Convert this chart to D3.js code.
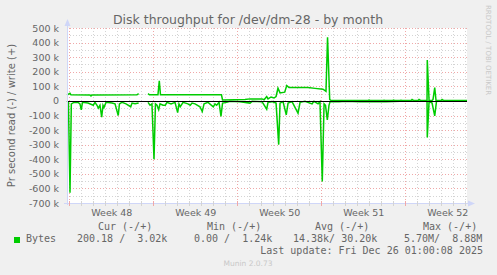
<!DOCTYPE html>
<html>
<head>
<meta charset="utf-8">
<script src="https://cdn.jsdelivr.net/npm/d3@7"></script>
<style>
body{margin:0;background:#f0f0f0;}
svg text{font-family:"DejaVu Sans",sans-serif;fill:#666666;}
.mono{font-family:"DejaVu Sans Mono",monospace;white-space:pre;}
</style>
</head>
<body>
<svg id="chart" width="497" height="275"></svg>
<script>
// days counted from Mon Nov 24 2025 (start of week 48), values in k bytes/s
var write_points = [
 [-0.19,40],[-0.03,48],[0.06,52],[0.14,42],[1.73,41],[1.81,34],[1.89,41],[5.64,42],[5.78,50],
 [6.2,null],
 [6.56,50],[6.68,42],[7.39,42],[7.50,137],[7.60,42],[12.68,42],[12.77,7],[13.81,8],[14.64,10],
 [15.06,14],[16.06,14],[16.23,8],[16.45,30],[16.56,14],[16.81,27],[17.06,20],[17.23,30],[17.39,87],
 [17.56,55],[17.95,60],[18.12,105],[18.31,92],[19.89,92],[20.48,86],[21.14,80],[21.39,66],[21.52,436],
 [21.70,10],[21.81,3],[24.9,3],[24.98,6],[25.06,3],[26.15,3],[26.23,5],[26.3,3],[26.95,3],[27.03,6],
 [27.1,3],[27.56,3],[27.64,5],[27.72,3],[28.48,3],[28.56,10],[28.68,3],[29.06,3],[29.14,10],[29.27,3],
 [29.81,3],[29.83,281],[29.98,3],[30.23,3],[30.31,10],[30.45,91],[30.56,3],[30.98,3],[31.06,10],[31.18,3],
 [33.14,3]
]
var read_points = [
 [-0.19,0],[-0.07,10],[0.06,630],[0.17,20],[0.39,10],[0.73,10],[0.89,20],[1.00,62],[1.10,10],[1.56,15],
 [2.00,30],[2.14,10],[2.31,30],[2.42,50],[2.56,30],[2.70,112],[2.81,30],[2.89,45],[3.06,10],[3.56,15],
 [3.81,20],[4.08,100],[4.18,20],[4.39,10],[4.73,20],[5.12,40],[5.23,15],[5.48,20],[5.78,15],
 [6.2,null],
 [6.56,10],[6.73,30],[6.89,20],[7.06,400],[7.18,20],[7.31,30],[7.45,60],[7.56,20],[7.81,30],[8.00,30],
 [8.14,10],[8.48,20],[8.81,10],[9.03,80],[9.14,20],[9.25,40],[9.48,10],[9.89,20],[10.08,30],[10.23,15],
 [10.48,20],[10.89,40],[11.08,73],[11.23,20],[11.56,10],[12.00,40],[12.14,20],[12.28,30],[12.48,10],
 [12.64,107],[12.77,15],[13.12,10],[13.39,3],[14.23,5],[15.06,15],[15.23,3],[16.06,5],[16.45,57],
 [16.56,10],[16.89,5],[17.23,15],[17.45,300],[17.56,15],[17.81,5],[18.08,96],[18.23,15],[18.56,5],
 [19.06,84],[19.23,10],[19.64,3],[20.23,20],[20.39,3],[20.73,20],[20.89,5],[21.08,553],[21.23,20],
 [21.35,30],[21.50,130],[21.64,30],[21.73,5],[22.48,5],[22.98,2],[24.23,5],[25.31,5],[25.73,5],
 [26.39,5],[27.56,3],[29.81,3],[29.83,251],[29.98,3],[30.23,15],[30.45,103],[30.60,3],[33.14,2]
]
var week_labels = ["Week 48","Week 49","Week 50","Week 51","Week 52"]
var week_starts = [0,7,14,21,28]
var y_ticks = [-700,-600,-500,-400,-300,-200,-100,0,100,200,300,400,500]
var legend_heads = ["Cur (-/+)","Min (-/+)","Avg (-/+)","Max (-/+)"]
var legend_vals = ["200.18 /  3.02k","0.00 /  1.24k","14.38k/ 30.20k","5.70M/  8.88M"]

var t0 = Date.UTC(2025, 10, 24)
function day_to_date(d){ return new Date(t0 + d*864e5) }

var svg = d3.select("#chart")
var x = d3.scaleTime().domain([day_to_date(-0.19), day_to_date(33.14)]).range([67, 467])
var y = d3.scaleLinear().domain([-700000, 500000]).range([203, 28])
function px(v){ return Math.round(v) + 0.5 }

svg.append("rect").attr("x",67).attr("y",28).attr("width",400).attr("height",175).attr("fill","#ffffff")

// grid: minor first, then major
var day_list = d3.range(0, 34)
var minor_days = day_list.filter(d => week_starts.indexOf(d) < 0)
var minor_y = d3.range(-650, 500, 100)
var g_grid = svg.append("g")
g_grid.selectAll("line.vmin").data(minor_days).enter().append("line")
	.attr("x1", d => px(x(day_to_date(d)))).attr("x2", d => px(x(day_to_date(d))))
	.attr("y1", 28).attr("y2", 203)
	.attr("stroke","#d4d4d4").attr("stroke-dasharray","1,2")
g_grid.selectAll("line.hmin").data(minor_y).enter().append("line")
	.attr("x1", 67).attr("x2", 467)
	.attr("y1", d => px(y(d*1000))).attr("y2", d => px(y(d*1000)))
	.attr("stroke","#d4d4d4").attr("stroke-dasharray","1,2")
g_grid.selectAll("line.vmaj").data(week_starts).enter().append("line")
	.attr("x1", d => px(x(day_to_date(d)))).attr("x2", d => px(x(day_to_date(d))))
	.attr("y1", 28).attr("y2", 203)
	.attr("stroke","#f0a8a8").attr("stroke-dasharray","1,2")
g_grid.selectAll("line.hmaj").data(y_ticks).enter().append("line")
	.attr("x1", 67).attr("x2", 467)
	.attr("y1", d => px(y(d*1000))).attr("y2", d => px(y(d*1000)))
	.attr("stroke","#f0a8a8").attr("stroke-dasharray","1,2")

// axes (labels)
var y_axis = d3.axisLeft(y).tickValues(y_ticks.map(v => v*1000)).tickSize(0).tickPadding(8)
	.tickFormat(v => v == 0 ? "0" : (v/1000) + " k")
var gy = svg.append("g").attr("transform","translate(67,0)").call(y_axis)
gy.select(".domain").remove()
gy.selectAll("text").style("font-family","DejaVu Sans").style("font-size","9.5px").attr("fill","#666666")

var x_axis = d3.axisBottom(x).tickValues(week_starts.map(d => day_to_date(d+3.5))).tickSize(0).tickPadding(6)
	.tickFormat((d,i) => week_labels[i])
var gx = svg.append("g").attr("transform","translate(0,203)").call(x_axis)
gx.select(".domain").remove()
gx.selectAll("text").style("font-family","DejaVu Sans").style("font-size","9.5px").attr("fill","#666666")

// data lines, read is mirrored below zero
var write_line = d3.line().defined(d => d[1] != null)
	.x(d => x(day_to_date(d[0]))).y(d => y(d[1]*1000))
var read_line = d3.line().defined(d => d[1] != null)
	.x(d => x(day_to_date(d[0]))).y(d => y(-d[1]*1000))
svg.append("path").attr("d", write_line(write_points)).attr("fill","none").attr("stroke","#00cc00").attr("stroke-width",1.5)
svg.append("path").attr("d", read_line(read_points)).attr("fill","none").attr("stroke","#00cc00").attr("stroke-width",1.5)

// zero rule
svg.append("line").attr("x1",67).attr("x2",467).attr("y1",px(y(0))).attr("y2",px(y(0)))
	.attr("stroke","#000000").attr("stroke-width",1)

// axis frame with arrows
var axis_col = "#cfd6f8"
svg.append("line").attr("x1",67.5).attr("x2",67.5).attr("y1",205).attr("y2",24).attr("stroke",axis_col)
svg.append("path").attr("d","M64.5,26 L67.5,19 L70.5,26 Z").attr("fill",axis_col)
svg.append("line").attr("x1",64).attr("x2",470).attr("y1",203.5).attr("y2",203.5).attr("stroke",axis_col)
svg.append("path").attr("d","M468,200.5 L475,203.5 L468,206.5 Z").attr("fill",axis_col)
svg.selectAll("line.xt").data(day_list).enter().append("line")
	.attr("x1", d => px(x(day_to_date(d)))).attr("x2", d => px(x(day_to_date(d))))
	.attr("y1", 201).attr("y2", 206)
	.attr("stroke", d => week_starts.indexOf(d) >= 0 ? "#f0a8a8" : "#d4d4d4")

// titles
svg.append("text").attr("x",248).attr("y",24).attr("text-anchor","middle")
	.style("font-size","12.5px").text("Disk throughput for /dev/dm-28 - by month")
svg.append("text").attr("transform","translate(15,115.5) rotate(-90)").attr("text-anchor","middle")
	.style("font-size","10px").text("Pr second read (-) / write (+)")
svg.append("text").attr("transform","translate(486,5) rotate(90)").attr("text-anchor","start")
	.style("font-size","7px").style("fill","#c8c8c8").text("RRDTOOL / TOBI OETIKER")

// legend
var head_x = [98,207,315,423]
var val_x = [77,194,293,404]
svg.selectAll("text.lh").data(legend_heads).enter().append("text").attr("class","mono")
	.attr("x",(d,i) => head_x[i]).attr("y",230).style("font-size","10px").text(d => d)
svg.append("rect").attr("x",14).attr("y",237).attr("width",6).attr("height",6).attr("fill","#00cc00")
svg.append("text").attr("class","mono").attr("x",26).attr("y",242).style("font-size","10px").text("Bytes")
svg.selectAll("text.lv").data(legend_vals).enter().append("text").attr("class","mono")
	.attr("x",(d,i) => val_x[i]).attr("y",242).style("font-size","10px").text(d => d)
svg.append("text").attr("class","mono").attr("x",483).attr("y",254).attr("text-anchor","end")
	.style("font-size","10px").text("Last update: Fri Dec 26 01:00:08 2025")
svg.append("text").attr("x",248).attr("y",266).attr("text-anchor","middle")
	.style("font-size","7.5px").style("fill","#c8c8c8").text("Munin 2.0.73")
</script>
</body>
</html>
